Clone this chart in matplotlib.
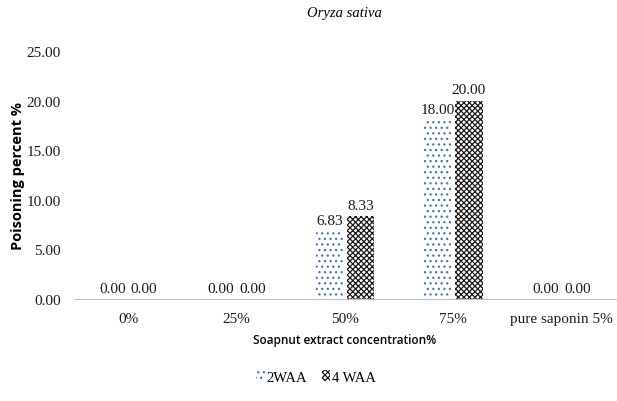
import matplotlib
matplotlib.use("Agg")
import matplotlib.pyplot as plt
import numpy as np

categories = ["0%", "25%", "50%", "75%", "pure saponin 5%"]
waa2 = [0.00, 0.00, 6.83, 18.00, 0.00]
waa4 = [0.00, 0.00, 8.33, 20.00, 0.00]
series_names = ["2WAA", "4 WAA"]

serif = "Liberation Serif"
sans = "Open Sans"

plt.rcParams["hatch.linewidth"] = 0.9

fig = plt.figure(figsize=(6.17, 4.02), dpi=100)
ax = fig.add_axes([0.12, 0.2537, 0.878, 0.617])

x = np.arange(len(categories))
w = 0.25
off = 0.145
b1 = ax.bar(x - off, waa2, width=w, color="white", edgecolor="#4472c4",
            linewidth=0, hatch="...", label=series_names[0])
b2 = ax.bar(x + off, waa4, width=w, color="white", edgecolor="#1a1a1a",
            linewidth=0, hatch="xxxxxx", label=series_names[1])

for bars in (b1, b2):
    for r in bars:
        h = r.get_height()
        ax.annotate(f"{h:.2f}", (r.get_x() + r.get_width() / 2, h),
                    xytext=(0, 3), textcoords="offset points",
                    ha="center", va="bottom", family=serif, fontsize=11,
                    color="#1a1a1a")

ax.set_xlim(-0.5, len(categories) - 0.5)
ax.set_ylim(0, 25)
ax.set_yticks(np.arange(0, 26, 5))
ax.set_yticklabels([f"{v:.2f}" for v in np.arange(0, 26, 5)], family=serif, fontsize=11)
ax.set_xticks(x)
ax.set_xticklabels(categories, family=serif, fontsize=11)
ax.tick_params(length=0, colors="#1a1a1a")
ax.tick_params(axis="y", pad=9.5)
ax.tick_params(axis="x", pad=9)

for s in ("top", "right", "left"):
    ax.spines[s].set_visible(False)
ax.spines["bottom"].set_color("#bfbfbf")

ax.set_xlabel("Soapnut extract concentration%", family=sans, fontsize=8.5,
              fontweight="semibold", labelpad=6)
ax.set_ylabel("Poisoning percent %", family=sans, fontsize=10.5,
              fontweight="bold", labelpad=1)
ax.set_title("Oryza sativa", family=serif, style="italic", fontsize=10.5, pad=25)

fig.legend(handles=[b1, b2], labels=series_names, loc="center",
           bbox_to_anchor=(0.512, 0.06), ncol=2, frameon=False,
           handlelength=0.6, handleheight=0.8, handletextpad=0.1,
           columnspacing=1.0, prop={"family": serif, "size": 10.5})

fig.savefig("out.png", dpi=100)
